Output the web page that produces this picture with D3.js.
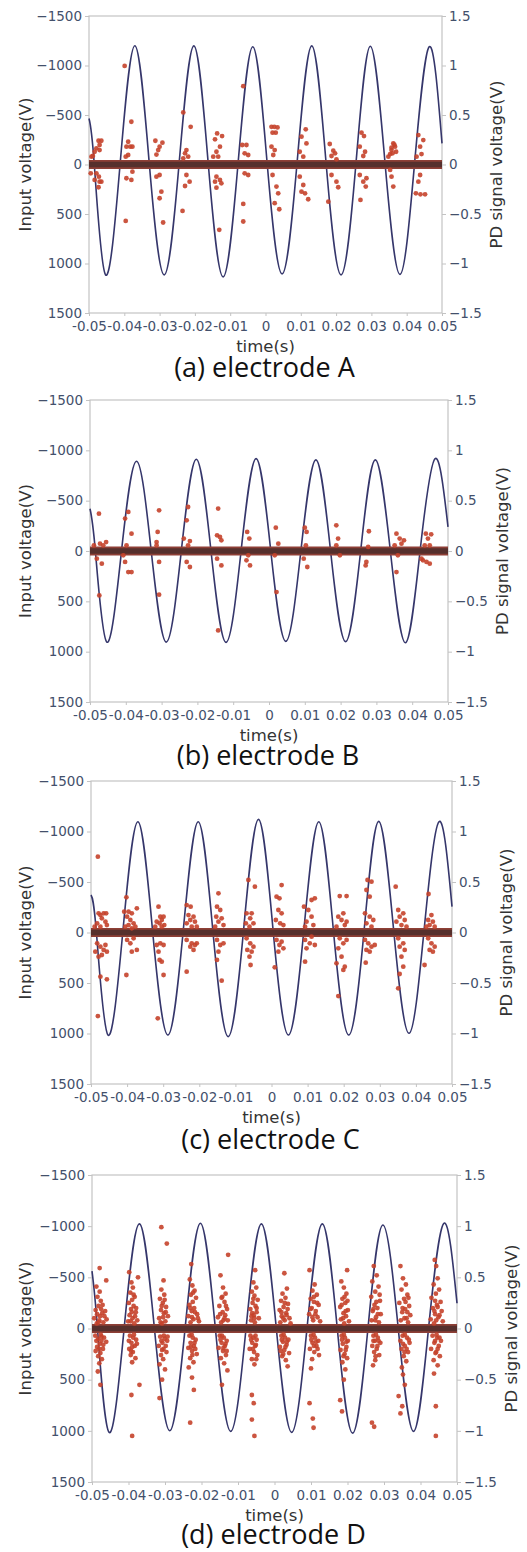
<!DOCTYPE html>
<html>
<head>
<meta charset="utf-8">
<script src="https://cdn.jsdelivr.net/npm/d3@7"></script>
<style>
  body { margin: 0; background: #fff; }
  svg { display: block; }
</style>
</head>
<body>
<svg id="chart" width="527" height="1552"></svg>
<script>
// axis ticks
const timeTicks = [-0.05, -0.04, -0.03, -0.02, -0.01, 0, 0.01, 0.02, 0.03, 0.04, 0.05];
const inputTicks = [-1500, -1000, -500, 0, 500, 1000, 1500];
const pdTicks = [1.5, 1, 0.5, 0, -0.5, -1, -1.5];
const titles = ["(a) electrode A", "(b) electrode B", "(c) electrode C", "(d) electrode D"];

// input voltage key points (start, zero crossings, troughs, peaks, end)
const waveTimes = [-0.05, -0.0485, -0.0453, -0.0412, -0.0370, -0.0329, -0.0287, -0.0245, -0.0203, -0.0162,
  -0.0120, -0.0078, -0.0036, 0.0005, 0.0047, 0.0089, 0.0131, 0.0172, 0.0214, 0.0256,
  0.0297, 0.0339, 0.0381, 0.0422, 0.0464, 0.05];
const waveA = [-465, 0, 1115, 0, -1200, 0, 1115, 0, -1198, 0, 1135, 0, -1190, 0, 1105, 0, -1198, 0, 1115, 0, -1195, 0, 1110, 0, -1190, -213];
const waveB = [-420, 0, 905, 0, -892, 0, 905, 0, -911, 0, 908, 0, -918, 0, 898, 0, -905, 0, 900, 0, -905, 0, 911, 0, -918, -239];
const waveC = [-371, 0, 1015, 0, -1097, 0, 1015, 0, -1097, 0, 1031, 0, -1120, 0, 1015, 0, -1097, 0, 1015, 0, -1100, 0, 998, 0, -1097, -256];
const waveD = [-560, 0, 1015, 0, -1022, 0, 999, 0, -1028, 0, 1005, 0, -1022, 0, 1015, 0, -1022, 0, 1022, 0, -1012, 0, 1005, 0, -1028, -247];

// PD signal: continuous noise band half widths (V)
const bandCore = 0.028;
const bandHalo = 0.045;

// PD pulses [time (s), signal (V)]
const pdA = [
  [-.0473,.24],[-.0465,.24],[-.0470,.197],[-.0479,.163],[-.0470,.146],[-.0484,.129],[-.0489,.086],[-.0493,.079],[-.0479,-.089],[-.0472,-.123],[-.0484,-.156],[-.0470,-.173],[-.0473,-.23],[-.0495,-.089],[-.0465,-.173],
  [-.0399,.996],[-.0380,.432],[-.0389,.23],[-.0394,.18],[-.0383,.18],[-.0377,.18],[-.0389,.096],[-.0396,.079],[-.0394,-.139],[-.0380,-.156],[-.0396,-.57],[-.0377,-.072],
  [-.0312,.24],[-.0292,.22],[-.0300,.18],[-.0304,.146],[-.0309,.10],[-.0300,-.106],[-.0309,-.123],[-.0295,-.274],[-.0300,-.341],[-.0290,-.586],
  [-.0233,.526],[-.0212,.381],[-.0224,.146],[-.0228,.113],[-.0219,.079],[-.0233,.062],[-.0224,-.106],[-.0215,-.173],[-.0228,-.217],[-.0235,-.469],
  [-.0137,.314],[-.0123,.287],[-.0143,.254],[-.0129,.18],[-.0139,.129],[-.0134,.079],[-.0148,.079],[-.0139,-.123],[-.0129,-.156],[-.0143,-.173],[-.0125,-.19],[-.0139,-.234],[-.0131,-.66],
  [-.0063,.791],[-.0066,.197],[-.0054,.197],[-.0059,.113],[-.0049,.096],[-.0059,-.089],[-.0049,-.106],[-.0063,-.398],[-.0063,-.576],
  [.0017,.381],[.0025,.381],[.0034,.375],[.0020,.321],[.0029,.321],[.0017,.18],[.0026,.146],[.0022,.096],[.0020,-.106],[.0031,-.223],[.0036,-.291],[.0026,-.391],[.0039,-.452],
  [.0114,.355],[.0102,.281],[.0116,.213],[.0097,.129],[.0107,.079],[.0097,-.123],[.0107,-.207],[.0102,-.274],[.0112,-.291],[.0121,-.351],
  [.0182,.207],[.0192,.14],[.0197,.113],[.0187,.086],[.0201,.052],[.0187,-.106],[.0201,-.173],[.0206,-.23],[.0178,-.375],
  [.0272,.321],[.0279,.287],[.0267,.18],[.0282,.129],[.0277,.086],[.0267,-.106],[.0286,-.139],[.0277,-.173],[.0284,-.223],[.0269,-.358],
  [.0362,.213],[.0367,.18],[.0357,.146],[.0353,.105],[.0370,.129],[.0348,.079],[.0360,.113],[.0365,.20],[.0357,.17],[.0357,-.123],[.0362,-.223],[.0353,-.055],
  [.0433,.297],[.0447,.247],[.0438,.18],[.0442,.105],[.0428,.079],[.0438,-.106],[.0433,-.173],[.0426,-.291],[.0439,-.301],[.0452,-.301]
];
const pdB = [
  [-.0475,.371],[-.0455,.089],[-.0463,.056],[-.0489,.056],[-.0472,.073],[-.0481,-.076],[-.0467,-.126],[-.0474,-.441],
  [-.0402,.322],[-.0393,.388],[-.0384,.172],[-.0402,-.109],[-.0393,-.209],[-.0384,-.209],[-.0398,.056],[-.0407,-.043],
  [-.0307,.404],[-.0311,.189],[-.0314,.089],[-.0307,-.109],[-.0307,-.434],[-.0314,.056],
  [-.0226,.437],[-.0230,.305],[-.0238,.123],[-.0221,.099],[-.0230,-.109],[-.0221,-.159],[-.0226,.056],
  [-.0142,.421],[-.0145,.156],[-.0137,.139],[-.0133,.106],[-.0133,-.143],[-.0145,-.076],[-.0142,-.789],
  [-.0061,.189],[-.0055,.123],[-.0063,-.093],[-.0053,-.143],[-.0058,-.043],
  [.0019,.232],[.0021,-.408],[.0026,.073],[.0016,-.043],
  [.0100,.232],[.0105,.189],[.0107,-.159],[.0097,-.076],[.0103,.056],
  [.0188,.255],[.0193,.123],[.0198,-.043],[.0188,.056],
  [.0279,.196],[.0272,-.109],[.0270,-.143],[.0277,.040],
  [.0356,.172],[.0365,.123],[.0377,.106],[.0356,-.209],[.0360,-.043],[.0370,.073],[.0351,.056],
  [.0438,.172],[.0453,.166],[.0444,.123],[.0430,-.093],[.0440,-.109],[.0449,-.126],[.0426,-.076],[.0435,.056],[.0449,.056]
];
const pdC = [
  [-.0481,.751],[-.0479,.19],[-.0474,.173],[-.0465,.19],[-.0458,.19],[-.0470,.14],[-.0460,.107],[-.0483,.091],[-.0474,.058],[-.0456,.074],[-.0490,.058],[-.0483,-.107],[-.0474,-.14],[-.0465,-.173],[-.0456,-.19],[-.0488,-.19],[-.0470,-.223],[-.0479,-.239],[-.0460,-.124],[-.0474,-.437],[-.0456,-.464],[-.0481,-.827],
  [-.0402,.348],[-.0408,.206],[-.0396,.206],[-.0387,.19],[-.0373,.239],[-.0400,.157],[-.0391,.124],[-.0382,.091],[-.0377,.058],[-.0405,.058],[-.0396,.074],[-.0387,.041],[-.0400,-.074],[-.0382,-.058],[-.0391,-.107],[-.0373,-.173],[-.0387,-.19],[-.0402,-.421],
  [-.0313,.256],[-.0308,.157],[-.0299,.157],[-.0304,.124],[-.0310,.091],[-.0318,.107],[-.0297,.074],[-.0322,.058],[-.0304,.058],[-.0318,-.124],[-.0308,-.107],[-.0299,-.124],[-.0313,-.19],[-.0304,-.289],[-.0310,-.272],[-.0299,-.421],[-.0315,-.85],
  [-.0235,.272],[-.0224,.256],[-.0230,.173],[-.0216,.157],[-.0225,.124],[-.0212,.107],[-.0235,.091],[-.0221,.058],[-.0207,.058],[-.0235,-.074],[-.0221,-.107],[-.0212,-.124],[-.0225,-.14],[-.0216,-.173],[-.0235,-.388],[-.0207,-.107],
  [-.0147,.388],[-.0151,.256],[-.0142,.223],[-.0153,.157],[-.0138,.14],[-.0147,.107],[-.0133,.074],[-.0156,.058],[-.0151,-.074],[-.0142,-.124],[-.0133,-.107],[-.0147,-.19],[-.0151,-.272],[-.0138,-.477],
  [-.0064,.52],[-.0046,.454],[-.0069,.19],[-.0055,.19],[-.0059,.14],[-.0071,.091],[-.0050,.091],[-.0061,.058],[-.0069,-.058],[-.0059,-.107],[-.0050,-.14],[-.0067,-.173],[-.0055,-.19],[-.0061,-.239],[-.0058,-.322],
  [.0028,.47],[.0014,.355],[.0022,.338],[.0019,.223],[.0028,.19],[.0012,.124],[.0024,.091],[.0033,.074],[.0014,-.074],[.0028,-.091],[.0022,-.124],[.0033,-.157],[.0019,-.19],[.0009,-.345],
  [.0111,.322],[.0120,.338],[.0090,.256],[.0102,.223],[.0111,.157],[.0097,.107],[.0116,.074],[.0093,.058],[.0093,-.074],[.0106,-.107],[.0120,-.124],[.0097,-.157],[.0111,-.041],[.0093,-.289],
  [.0189,.361],[.0208,.361],[.0199,.19],[.0185,.157],[.0194,.124],[.0208,.107],[.0203,.074],[.0180,.058],[.0189,-.058],[.0199,-.107],[.0208,-.074],[.0185,-.157],[.0180,-.305],[.0194,-.239],[.0203,-.338],[.0199,-.371],[.0185,-.629],
  [.0266,.52],[.0277,.503],[.0263,.421],[.0272,.355],[.0259,.19],[.0272,.157],[.0282,.124],[.0263,.091],[.0277,.058],[.0259,-.074],[.0268,-.107],[.0277,-.14],[.0286,-.124],[.0263,-.173],[.0272,-.19],[.0261,-.299],
  [.0344,.454],[.0351,.223],[.0365,.19],[.0355,.157],[.0369,.124],[.0346,.107],[.0360,.074],[.0374,.058],[.0351,-.058],[.0365,-.107],[.0355,-.14],[.0369,-.173],[.0360,-.239],[.0365,-.338],[.0355,-.411],[.0351,-.553],
  [.0435,.381],[.0443,.173],[.0434,.124],[.0447,.107],[.0438,.074],[.0452,.058],[.0429,.058],[.0434,-.058],[.0443,-.107],[.0452,-.14],[.0438,-.173],[.0447,-.19],[.0424,-.322]
];
const pdD = [
  [-.0490,.18],[-.0482,.22],[-.0476,.27],[-.0485,.31],[-.0479,.36],[-.0488,.41],[-.0472,.15],[-.0466,.12],[-.0494,.10],[-.0480,.08],[-.0469,.06],[-.0487,.05],[-.0460,.09],[-.0475,.19],
  [-.0491,-.07],[-.0483,-.10],[-.0474,-.12],[-.0467,-.09],[-.0479,-.15],[-.0486,-.18],[-.0470,-.20],[-.0477,-.24],[-.0483,-.27],[-.0473,-.30],[-.0480,-.34],[-.0484,-.42],[-.0477,-.55],[-.0461,-.13],[-.0490,-.22],
  [-.0479,.59],[-.0461,.47],
  [-.0478,.12],[-.0486,.14],[-.0471,.23],[-.0482,.06],[-.0476,-.06],[-.0488,-.12],[-.0469,-.16],[-.0480,-.20],[-.0474,-.08],[-.0464,.17],
  [-.0398,.55],[-.0392,.45],[-.0388,.40],[-.0395,.35],[-.0383,.31],[-.0390,.28],[-.0399,.25],[-.0386,.22],[-.0393,.19],[-.0380,.16],[-.0397,.13],[-.0389,.10],[-.0376,.08],[-.0401,.07],[-.0384,.05],
  [-.0396,-.07],[-.0387,-.09],[-.0379,-.11],[-.0392,-.14],[-.0383,-.17],[-.0398,-.20],[-.0388,-.23],[-.0394,-.26],[-.0381,-.29],[-.0390,-.33],[-.0370,-.55],[-.0392,-.65],[-.0390,-1.05],[-.0374,.50],
  [-.0394,.07],[-.0382,.12],[-.0391,.16],[-.0386,.33],[-.0379,.20],[-.0399,-.12],[-.0385,-.06],[-.0390,-.18],[-.0377,-.15],[-.0393,-.22],
  [-.0310,.99],[-.0295,.83],[-.0304,.47],[-.0310,.38],[-.0302,.33],[-.0314,.29],[-.0306,.25],[-.0297,.21],[-.0311,.18],[-.0303,.15],[-.0292,.12],[-.0316,.10],[-.0299,.07],[-.0308,.05],
  [-.0313,-.08],[-.0301,-.10],[-.0294,-.12],[-.0307,-.14],[-.0317,-.17],[-.0304,-.20],[-.0296,-.23],[-.0311,-.26],[-.0305,-.30],[-.0315,-.35],[-.0300,-.40],[-.0308,-.50],[-.0315,-.68],
  [-.0305,.11],[-.0298,.16],[-.0309,.22],[-.0301,.28],[-.0312,.06],[-.0303,-.07],[-.0310,-.12],[-.0298,-.17],[-.0308,-.21],[-.0293,-.08],
  [-.0228,.63],[-.0232,.48],[-.0225,.42],[-.0219,.37],[-.0229,.33],[-.0215,.30],[-.0224,.26],[-.0233,.23],[-.0220,.20],[-.0227,.17],[-.0212,.14],[-.0236,.12],[-.0222,.09],[-.0230,.06],[-.0207,.07],
  [-.0233,-.07],[-.0224,-.09],[-.0216,-.11],[-.0230,-.14],[-.0221,-.17],[-.0236,-.19],[-.0226,-.22],[-.0213,-.25],[-.0231,-.29],[-.0222,-.33],[-.0235,-.38],[-.0226,-.48],[-.0221,-.60],[-.0231,-.92],
  [-.0226,.11],[-.0218,.16],[-.0231,.20],[-.0223,.35],[-.0210,.10],[-.0227,-.06],[-.0219,-.14],[-.0229,-.18],[-.0217,-.20],[-.0225,-.26],
  [-.0127,.72],[-.0148,.52],[-.0141,.40],[-.0134,.34],[-.0145,.30],[-.0137,.26],[-.0151,.22],[-.0130,.19],[-.0142,.16],[-.0135,.13],[-.0155,.11],[-.0128,.08],[-.0146,.06],
  [-.0150,-.07],[-.0139,-.09],[-.0131,-.12],[-.0145,-.14],[-.0136,-.17],[-.0153,-.19],[-.0141,-.22],[-.0133,-.26],[-.0147,-.29],[-.0138,-.34],[-.0144,-.55],[-.0129,-.41],
  [-.0140,.08],[-.0149,.14],[-.0133,.22],[-.0143,.31],[-.0137,.10],[-.0144,-.07],[-.0134,-.15],[-.0148,-.11],[-.0140,-.19],[-.0131,-.22],
  [-.0053,.57],[-.0058,.45],[-.0050,.40],[-.0062,.36],[-.0055,.32],[-.0046,.28],[-.0060,.25],[-.0052,.22],[-.0066,.19],[-.0049,.16],[-.0057,.13],[-.0043,.10],[-.0064,.08],[-.0054,.06],
  [-.0066,-.07],[-.0058,-.09],[-.0049,-.11],[-.0061,-.14],[-.0053,-.17],[-.0068,-.20],[-.0056,-.23],[-.0047,-.26],[-.0062,-.30],[-.0055,-.35],[-.0062,-.65],[-.0057,-.73],[-.0055,-1.05],[-.0062,-.89],
  [-.0055,.10],[-.0061,.15],[-.0049,.20],[-.0058,.29],[-.0063,.12],[-.0052,-.07],[-.0064,-.11],[-.0051,-.16],[-.0059,-.20],[-.0050,-.30],
  [.0027,.54],[.0034,.39],[.0022,.34],[.0030,.30],[.0018,.27],[.0037,.24],[.0025,.21],[.0014,.18],[.0032,.15],[.0020,.12],[.0041,.10],[.0028,.08],[.0016,.06],[.0044,.05],
  [.0019,-.07],[.0029,-.09],[.0038,-.11],[.0023,-.13],[.0033,-.16],[.0015,-.18],[.0027,-.21],[.0040,-.24],[.0021,-.27],[.0031,-.31],[.0036,-.37],[.0017,-.22],
  [.0024,.10],[.0033,.13],[.0019,.16],[.0028,.25],[.0036,.19],[.0025,-.06],[.0034,-.13],[.0020,-.11],[.0030,-.18],[.0024,-.25],
  [.0096,.57],[.0110,.43],[.0104,.37],[.0116,.33],[.0099,.29],[.0108,.26],[.0121,.23],[.0102,.20],[.0113,.17],[.0095,.14],[.0118,.11],[.0106,.08],[.0125,.07],
  [.0100,-.07],[.0111,-.09],[.0120,-.12],[.0104,-.14],[.0115,-.17],[.0097,-.20],[.0109,-.23],[.0122,-.26],[.0103,-.30],[.0100,-.39],[.0096,-.73],[.0105,-.88],[.0107,-.97],
  [.0104,.11],[.0112,.14],[.0099,.19],[.0117,.25],[.0108,.31],[.0107,-.06],[.0114,-.13],[.0101,-.11],[.0118,-.20],[.0108,-.17],
  [.0199,.57],[.0183,.46],[.0190,.40],[.0197,.34],[.0186,.29],[.0194,.25],[.0180,.21],[.0201,.18],[.0189,.15],[.0196,.12],[.0182,.09],[.0204,.07],[.0191,.05],
  [.0184,-.07],[.0193,-.09],[.0201,-.12],[.0187,-.15],[.0197,-.18],[.0181,-.21],[.0192,-.25],[.0199,-.29],[.0186,-.33],[.0194,-.40],[.0190,-.50],[.0180,-.70],[.0185,-.81],
  [.0188,.10],[.0195,.17],[.0184,.23],[.0200,.27],[.0192,.31],[.0190,-.06],[.0197,-.13],[.0185,-.11],[.0195,-.21],[.0189,-.27],
  [.0272,.61],[.0280,.52],[.0268,.46],[.0285,.41],[.0276,.36],[.0265,.31],[.0289,.27],[.0274,.23],[.0282,.20],[.0269,.17],[.0291,.14],[.0278,.11],[.0266,.08],[.0286,.06],
  [.0271,-.07],[.0283,-.09],[.0275,-.12],[.0290,-.14],[.0268,-.17],[.0280,-.20],[.0273,-.23],[.0287,-.26],[.0276,-.31],[.0270,-.36],[.0267,-.92],[.0273,-.96],
  [.0276,.08],[.0283,.14],[.0271,.19],[.0279,.26],[.0288,.33],[.0278,-.06],[.0285,-.12],[.0271,-.12],[.0282,-.17],[.0277,-.27],
  [.0345,.61],[.0352,.49],[.0360,.43],[.0348,.38],[.0364,.33],[.0355,.29],[.0342,.25],[.0369,.22],[.0358,.19],[.0350,.16],[.0372,.13],[.0362,.10],[.0346,.08],[.0366,.06],
  [.0351,-.07],[.0363,-.09],[.0345,-.12],[.0370,-.14],[.0357,-.17],[.0348,-.20],[.0366,-.23],[.0354,-.27],[.0361,-.32],[.0349,-.38],[.0352,-.45],[.0345,-.83],[.0350,-.76],[.0340,-.66],[.0357,-.55],
  [.0356,.10],[.0364,.16],[.0351,.20],[.0359,.26],[.0367,.30],[.0357,-.06],[.0368,-.11],[.0352,-.15],[.0362,-.20],[.0356,-.23],
  [.0439,.67],[.0443,.61],[.0447,.49],[.0436,.43],[.0451,.38],[.0442,.34],[.0430,.30],[.0455,.26],[.0445,.23],[.0434,.20],[.0458,.17],[.0440,.14],[.0449,.11],[.0428,.09],[.0461,.07],[.0437,.05],
  [.0433,-.07],[.0446,-.09],[.0456,-.12],[.0438,-.14],[.0450,-.17],[.0429,-.20],[.0443,-.23],[.0453,-.27],[.0436,-.31],[.0447,-.36],[.0437,-.44],[.0442,-.76],[.0442,-1.05],
  [.0443,.08],[.0452,.13],[.0438,.17],[.0447,.21],[.0440,.27],[.0444,-.06],[.0452,-.09],[.0440,-.12],[.0447,-.20],[.0441,-.24]
];

// layout of the four stacked panels (plot box in px, title baseline offset)
const panels = [
  { title: titles[0], wave: waveA, pd: pdA, l: 89, r: 442, t: 16, b: 313, tt: 64 },
  { title: titles[1], wave: waveB, pd: pdB, l: 90, r: 448, t: 400, b: 702, tt: 63 },
  { title: titles[2], wave: waveC, pd: pdC, l: 91, r: 452, t: 781, b: 1084, tt: 65 },
  { title: titles[3], wave: waveD, pd: pdD, l: 92, r: 457, t: 1175, b: 1482, tt: 62 }
];

const svg = d3.select("#chart");
const axisGrey = "#c3c3c3";
const tickText = "#43506b";
const numFont = "DejaVu Sans, Verdana, sans-serif";

panels.forEach(p => {
  const g = svg.append("g");
  const x = d3.scaleLinear().domain([-0.05, 0.05]).range([p.l, p.r]);
  const yIn = d3.scaleLinear().domain([-1500, 1500]).range([p.t, p.b]);
  const yPd = d3.scaleLinear().domain([-1.5, 1.5]).range([p.b, p.t]);

  // frame
  g.append("rect")
    .attr("x", p.l).attr("y", p.t)
    .attr("width", p.r - p.l).attr("height", p.b - p.t)
    .attr("fill", "none").attr("stroke", axisGrey).attr("stroke-width", 1.2);

  // axes
  const left = g.append("g").attr("transform", `translate(${p.l},0)`)
    .call(d3.axisLeft(yIn).tickValues(inputTicks).tickSize(4).tickPadding(3).tickFormat(d3.format("d")));
  const right = g.append("g").attr("transform", `translate(${p.r},0)`)
    .call(d3.axisRight(yPd).tickValues(pdTicks).tickSize(4).tickPadding(3).tickFormat(d3.format("")));
  const bottom = g.append("g").attr("transform", `translate(0,${p.b})`)
    .call(d3.axisBottom(x).tickValues(timeTicks).tickSize(3).tickPadding(5)
      .tickFormat(d => d === 0 ? "0" : (d < 0 ? "-" : "") + Math.abs(d).toFixed(2)));
  [left, right, bottom].forEach(a => {
    a.select(".domain").remove();
    a.selectAll(".tick line").attr("stroke", axisGrey);
    a.selectAll(".tick text").attr("fill", tickText)
      .style("font-family", numFont).style("font-size", "13.5px");
  });

  // input voltage
  const line = d3.line()
    .x((d, i) => x(waveTimes[i]))
    .y(d => yIn(d))
    .curve(d3.curveNatural);
  g.append("path").datum(p.wave)
    .attr("d", line)
    .attr("fill", "none").attr("stroke", "#35366b").attr("stroke-width", 1.6);

  // PD noise band
  const band = (h) => d3.area()
    .x(d => x(d))
    .y0(yPd(-h)).y1(yPd(h));
  g.append("path").datum([-0.05, 0.05]).attr("d", band(bandHalo)).attr("fill", "#8e3f36");
  g.append("path").datum([-0.05, 0.05]).attr("d", band(bandCore)).attr("fill", "#56302d");

  // PD pulses
  g.append("g").selectAll("circle").data(p.pd).join("circle")
    .attr("cx", d => x(d[0]))
    .attr("cy", d => yPd(d[1]))
    .attr("r", 2.4)
    .attr("fill", "#c5432b")
    .attr("fill-opacity", 0.9);

  // labels
  const midY = (p.t + p.b) / 2;
  g.append("text")
    .attr("transform", `translate(25,${midY}) rotate(-90)`)
    .attr("text-anchor", "middle").attr("dy", "0.35em")
    .style("font-family", numFont).style("font-size", "16.5px").attr("fill", "#333")
    .text("Input voltage(V)");
  g.append("text")
    .attr("transform", `translate(${p.r + 54},${midY}) rotate(-90)`)
    .attr("text-anchor", "middle").attr("dy", "0.35em")
    .style("font-family", numFont).style("font-size", "16.5px").attr("fill", "#333")
    .text("PD signal voltage(V)");
  g.append("text")
    .attr("x", (p.l + p.r) / 2).attr("y", p.b + 39)
    .attr("text-anchor", "middle")
    .style("font-family", numFont).style("font-size", "16.5px").attr("fill", "#333")
    .text("time(s)");
  g.append("text")
    .attr("x", (p.l + p.r) / 2 - 1).attr("y", p.b + p.tt)
    .attr("text-anchor", "middle")
    .style("font-family", "Open Sans, sans-serif").style("font-size", "27px").attr("fill", "#111")
    .text(p.title);
});
</script>
</body>
</html>
